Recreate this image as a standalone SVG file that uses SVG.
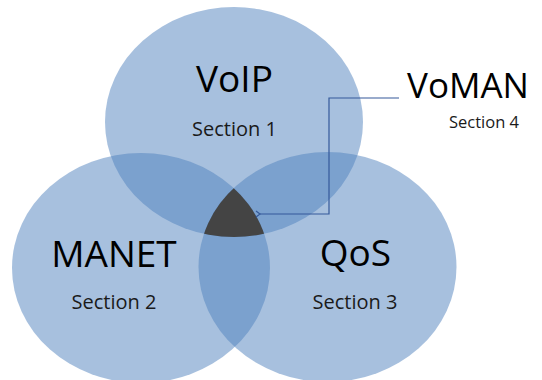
<svg xmlns="http://www.w3.org/2000/svg" width="542" height="380" viewBox="0 0 542 380">
  <style>
    .set { fill: #4f81bd; fill-opacity: 0.5; }
    .title { font-family: "Open Sans", "Noto Sans", sans-serif; font-size: 37px; fill: #000; text-anchor: middle; }
    .sub { font-family: "Open Sans", "Noto Sans", sans-serif; font-size: 20px; fill: #1a1a1a; text-anchor: middle; }
    .link { fill: none; stroke: #34599a; stroke-width: 1.2; }
  </style>
  <defs>
    <clipPath id="clip-voip"><ellipse cx="234" cy="122" rx="129" ry="115"/></clipPath>
    <clipPath id="clip-manet"><ellipse cx="141" cy="268" rx="129" ry="115"/></clipPath>
    <clipPath id="clip-qos"><ellipse cx="327.5" cy="267" rx="129" ry="115"/></clipPath>
    <marker id="arrow-open" markerUnits="userSpaceOnUse" markerWidth="10" markerHeight="10" refX="1" refY="5" orient="auto">
      <path d="M5,2 L1,5 L5,8" fill="none" stroke="#34599a" stroke-width="1.2"/>
    </marker>
  </defs>

  <rect width="542" height="380" fill="#ffffff"/>

  <g id="node-voip">
    <ellipse class="set" cx="234" cy="122" rx="129" ry="115"/>
    <text class="title" x="234.5" y="92">VoIP</text>
    <text class="sub" x="234.5" y="136">Section 1</text>
  </g>

  <g id="node-manet">
    <ellipse class="set" cx="141" cy="268" rx="129" ry="115"/>
    <text class="title" x="114" y="267">MANET</text>
    <text class="sub" x="114" y="309">Section 2</text>
  </g>

  <g id="node-qos">
    <ellipse class="set" cx="327.5" cy="267" rx="129" ry="115"/>
    <text class="title" x="355.5" y="266">QoS</text>
    <text class="sub" x="355" y="309">Section 3</text>
  </g>

  <g id="node-voman">
    <!-- shared region of all three sets -->
    <g clip-path="url(#clip-voip)">
      <g clip-path="url(#clip-manet)">
        <rect x="150" y="150" width="170" height="120" fill="#444444" clip-path="url(#clip-qos)"/>
      </g>
    </g>
    <text class="title" x="468" y="98" style="font-size:35px">VoMAN</text>
    <text class="sub" x="484" y="128" style="font-size:16.5px">Section 4</text>
  </g>

  <g id="connectors">
    <path class="link" d="M399,98 H329 V214 H260" marker-end="url(#arrow-open)"/>
  </g>
</svg>
